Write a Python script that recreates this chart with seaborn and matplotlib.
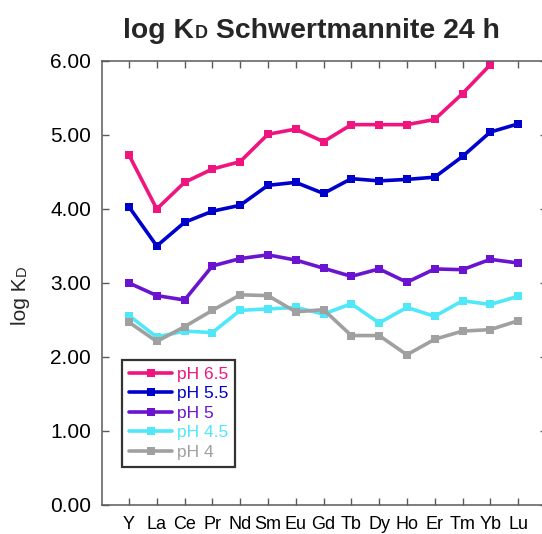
import pandas as pd
import seaborn as sns
import matplotlib
matplotlib.use("Agg")
from matplotlib import pyplot as plt

# rare earth elements on the x axis
elements = ["Y", "La", "Ce", "Pr", "Nd", "Sm", "Eu", "Gd", "Tb",
            "Dy", "Ho", "Er", "Tm", "Yb", "Lu"]

# log KD values, one list per pH
ph_65 = [4.73, 4.00, 4.36, 4.54, 4.64, 5.01, 5.08, 4.91, 5.14,
         5.14, 5.14, 5.21, 5.56, 5.95, None]
ph_55 = [4.03, 3.50, 3.82, 3.97, 4.05, 4.32, 4.36, 4.21, 4.41,
         4.38, 4.40, 4.43, 4.71, 5.04, 5.15]
ph_5 = [3.00, 2.83, 2.77, 3.23, 3.33, 3.38, 3.31, 3.20, 3.09,
        3.19, 3.01, 3.19, 3.18, 3.32, 3.27]
ph_45 = [2.56, 2.27, 2.35, 2.33, 2.63, 2.65, 2.67, 2.58, 2.72,
         2.46, 2.67, 2.55, 2.76, 2.71, 2.82]
ph_4 = [2.47, 2.21, 2.41, 2.63, 2.84, 2.83, 2.61, 2.64, 2.29,
        2.29, 2.03, 2.24, 2.35, 2.37, 2.49]

series_names = ["pH 6.5", "pH 5.5", "pH 5", "pH 4.5", "pH 4"]
series_values = [ph_65, ph_55, ph_5, ph_45, ph_4]
series_colors = ["#F0147F", "#0000CC", "#6A14CF", "#50E8F8", "#A0A0A0"]

y_ticks = [0, 1, 2, 3, 4, 5, 6]

# long form table for seaborn
rows = []
for name, values in zip(series_names, series_values):
    for el, v in zip(elements, values):
        rows.append({"element": el, "logKD": v, "pH": name})
df = pd.DataFrame(rows)

sns.set_style("white")
plt.rcParams["font.family"] = ["Liberation Sans", "DejaVu Sans"]

fig = plt.figure(figsize=(5.42, 5.34), dpi=100)
ax = fig.add_axes([102 / 542, 29 / 534, 445 / 542, 444 / 534])

sns.lineplot(data=df, x="element", y="logKD", hue="pH",
             hue_order=series_names, palette=series_colors,
             marker="s", markersize=6, markeredgewidth=0,
             linewidth=2.6, sort=False, ax=ax)

ax.set_xlim(-0.97, 15.04)
ax.set_ylim(0, 6)
ax.set_yticks(y_ticks)
ax.set_yticklabels(["%.2f" % t for t in y_ticks])
ax.set_xlabel("")
ax.set_ylabel("")

spine_color = "#5a5a5a"
for s in ax.spines.values():
    s.set_color(spine_color)
    s.set_linewidth(1.1)
    s.set_visible(True)

ax.tick_params(axis="both", direction="in", length=5, width=1,
               color=spine_color, top=True, right=True,
               left=True, bottom=True, labelcolor="black")
ax.tick_params(axis="x", labelsize=13, pad=8)
ax.tick_params(axis="y", labelsize=15, pad=8)

# legend with coloured labels
handles, labels = ax.get_legend_handles_labels()
leg = ax.legend(handles, labels, loc="lower left",
                bbox_to_anchor=(0.045, 0.086), borderaxespad=0,
                frameon=True, fancybox=False, fontsize=12.5,
                handlelength=2.5, handletextpad=0.25, labelspacing=0.25,
                borderpad=0.4)
leg.get_frame().set_edgecolor("black")
leg.get_frame().set_linewidth(1.6)
for txt, c in zip(leg.get_texts(), series_colors):
    txt.set_color(c)

# title with small D
t1 = fig.text(123 / 542, 1 - 38 / 534, "log K", fontsize=20.4,
              fontweight="bold", ha="left", va="baseline")
t2 = ax.annotate("D", xy=(1, 0), xycoords=t1, xytext=(0.5, 1.5),
                 textcoords="offset points", fontsize=13,
                 fontweight="bold", ha="left", va="bottom",
                 annotation_clip=False)
t3 = ax.annotate(" Schwertmannite 24 h", xy=(1, 0), xycoords=t2,
                 xytext=(0, -1.5), textcoords="offset points",
                 fontsize=20.4, fontweight="bold", ha="left", va="bottom",
                 annotation_clip=False)

# y label with small D
y1 = fig.text(21 / 542, 1 - 301 / 534, "log K", fontsize=15, rotation=90,
              ha="center", va="center")
y2 = ax.annotate("D", xy=(1, 1), xycoords=y1, xytext=(-1, 1),
                 textcoords="offset points", fontsize=10.5, rotation=90,
                 ha="right", va="bottom", annotation_clip=False)

fig.savefig("out.png", dpi=100)
